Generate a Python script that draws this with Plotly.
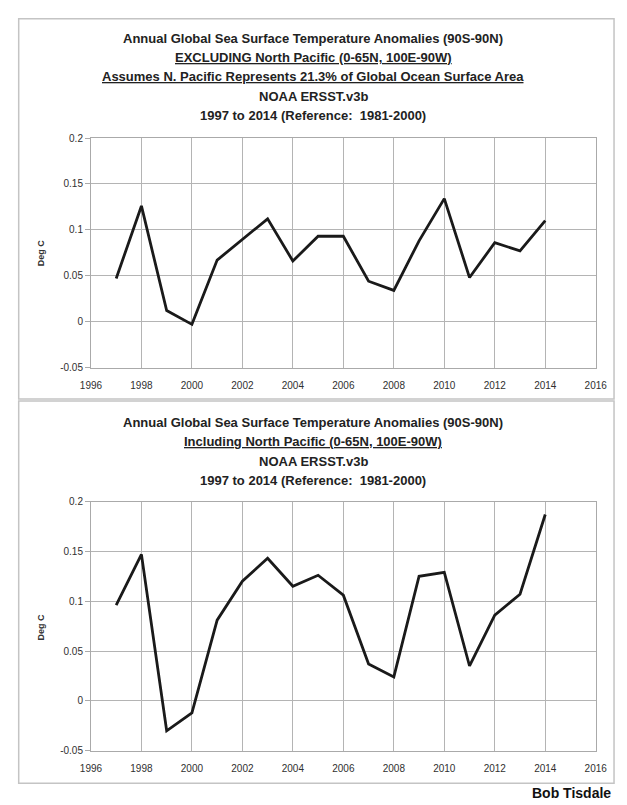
import plotly.graph_objects as go

years = list(range(1997, 2015))
excl_np = [0.047, 0.126, 0.012, -0.003, 0.067, 0.090, 0.112, 0.066, 0.093, 0.093,
           0.044, 0.034, 0.088, 0.134, 0.048, 0.086, 0.077, 0.110]
incl_np = [0.096, 0.147, -0.030, -0.012, 0.081, 0.120, 0.143, 0.115, 0.126, 0.106,
           0.037, 0.024, 0.125, 0.129, 0.035, 0.086, 0.107, 0.187]

y_tickvals = [-0.05, 0, 0.05, 0.1, 0.15, 0.2]
y_ticktext = ["-0.05", "0", "0.05", "0.1", "0.15", "0.2"]
x_tickvals = list(range(1996, 2017, 2))
x_ticktext = [str(v) for v in x_tickvals]

titles_top = [
    "Annual Global Sea Surface Temperature Anomalies (90S-90N)",
    "<span style='text-decoration:underline'>EXCLUDING North Pacific (0-65N, 100E-90W)</span>",
    "<span style='text-decoration:underline'>Assumes N. Pacific Represents 21.3% of Global Ocean Surface Area</span>",
    "NOAA ERSST.v3b",
    "1997 to 2014 (Reference:  1981-2000)",
]
titles_bot = [
    "Annual Global Sea Surface Temperature Anomalies (90S-90N)",
    "<span style='text-decoration:underline'>Including North Pacific (0-65N, 100E-90W)</span>",
    "NOAA ERSST.v3b",
    "1997 to 2014 (Reference:  1981-2000)",
]
y_title = "Deg C"
credit = "Bob Tisdale"

W, H = 627, 805
def py(p):
    return 1 - p / H
def px(p):
    return p / W

fig = go.Figure()
fig.add_trace(go.Scatter(x=years, y=excl_np, mode="lines", xaxis="x", yaxis="y",
                         line=dict(color="#1a1a1a", width=2.8), showlegend=False))
fig.add_trace(go.Scatter(x=years, y=incl_np, mode="lines", xaxis="x2", yaxis="y2",
                         line=dict(color="#1a1a1a", width=2.8), showlegend=False))

tickfont = dict(family="Liberation Sans", size=10, color="#303030")
xcommon = dict(range=[1996, 2016], tickvals=x_tickvals, ticktext=x_ticktext,
               showgrid=True, gridcolor="#b4b4b4", gridwidth=1, zeroline=False,
               showline=True, linecolor="#aaaaaa", mirror=True,
               ticks="outside", ticklen=8, tickcolor="rgba(0,0,0,0)",
               tickfont=tickfont, domain=[px(83), px(607)])
ycommon = dict(range=[-0.05, 0.2], tickvals=y_tickvals, ticktext=y_ticktext,
               showgrid=True, gridcolor="#b4b4b4", gridwidth=1, zeroline=False,
               showline=True, linecolor="#aaaaaa", mirror=True, ticks="outside",
               ticklen=5, tickcolor="#aaaaaa", tickfont=tickfont)

fig.update_layout(
    width=W, height=H, margin=dict(l=0, r=0, t=0, b=0),
    paper_bgcolor="white", plot_bgcolor="white",
    xaxis=dict(xcommon, anchor="y"),
    yaxis=dict(ycommon, domain=[py(367), py(134)], anchor="x"),
    xaxis2=dict(xcommon, anchor="y2"),
    yaxis2=dict(ycommon, domain=[py(756), py(503)], anchor="x2"),
)

shapes = []
for (y0, y1) in [(13, 399), (401, 789)]:
    shapes.append(dict(type="rect", xref="paper", yref="paper", x0=px(8), x1=px(626),
                       y0=py(y1), y1=py(y0), line=dict(color="#c4c4c4", width=1.5)))
fig.update_layout(shapes=shapes)

annotations = []
tfont = dict(family="Liberation Sans", size=13, color="#222")
for i, t in enumerate(titles_top):
    annotations.append(dict(text="<b>" + t + "</b>", x=px(314), y=py(33 + 19.5 * i), xref="paper", yref="paper",
                            showarrow=False, xanchor="center", yanchor="middle", font=tfont))
for i, t in enumerate(titles_bot):
    annotations.append(dict(text="<b>" + t + "</b>", x=px(314), y=py(423 + 19.5 * i), xref="paper", yref="paper",
                            showarrow=False, xanchor="center", yanchor="middle", font=tfont))
afont = dict(family="Liberation Sans", size=9, color="#333")
for yc in [250, 630]:
    annotations.append(dict(text="<b>" + y_title + "</b>", x=px(31), y=py(yc), xref="paper", yref="paper",
                            showarrow=False, xanchor="center", yanchor="middle", textangle=-90, font=afont))
annotations.append(dict(text="<b>" + credit + "</b>", x=px(625), y=py(799), xref="paper", yref="paper",
                        showarrow=False, xanchor="right", yanchor="middle",
                        font=dict(family="Liberation Sans", size=14, color="#111")))
fig.update_layout(annotations=annotations)

fig.write_html("out.html", config={"displayModeBar": False},
               post_script="document.body.style.margin='0';document.body.style.overflow='hidden';")
